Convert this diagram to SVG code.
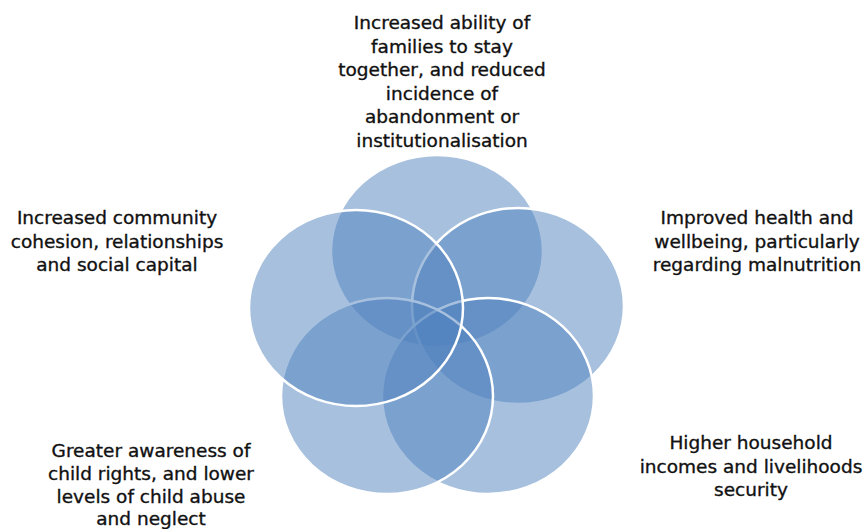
<svg xmlns="http://www.w3.org/2000/svg" width="865" height="529" viewBox="0 0 865 529">
  <style>
    .petal { fill: #4F81BD; fill-opacity: 0.5; stroke: #FFFFFF; stroke-width: 2.5; }
    .label { font-family: "DejaVu Sans", "Liberation Sans", sans-serif; font-size: 18.5px; fill: #111111; stroke: #111111; stroke-width: 0.35; text-anchor: middle; }
  </style>
  <rect width="865" height="529" fill="#FFFFFF"/>

  <!-- Overlapping outcome circles, drawn clockwise from the top -->
  <g id="circle-top"><ellipse class="petal" cx="437" cy="251" rx="106" ry="96"/></g>
  <g id="circle-right"><ellipse class="petal" cx="518" cy="306" rx="106" ry="98"/></g>
  <g id="circle-bottom-right"><ellipse class="petal" cx="488" cy="396" rx="106" ry="98"/></g>
  <g id="circle-bottom-left"><ellipse class="petal" cx="387" cy="396" rx="106" ry="98"/></g>
  <g id="circle-left"><ellipse class="petal" cx="356" cy="308" rx="107" ry="98"/></g>

  <!-- Outcome labels -->
  <g id="label-top">
    <text class="label" x="442" y="29">Increased ability of</text>
    <text class="label" x="442" y="53">families to stay</text>
    <text class="label" x="442" y="76">together, and reduced</text>
    <text class="label" x="442" y="100">incidence of</text>
    <text class="label" x="442" y="123">abandonment or</text>
    <text class="label" x="442" y="147">institutionalisation</text>
  </g>
  <g id="label-right">
    <text class="label" x="757" y="224">Improved health and</text>
    <text class="label" x="757" y="247.5">wellbeing, particularly</text>
    <text class="label" x="757" y="271">regarding malnutrition</text>
  </g>
  <g id="label-bottom-right">
    <text class="label" x="751" y="449">Higher household</text>
    <text class="label" x="751" y="472.5">incomes and livelihoods</text>
    <text class="label" x="751" y="496">security</text>
  </g>
  <g id="label-bottom-left">
    <text class="label" x="151" y="457">Greater awareness of</text>
    <text class="label" x="151" y="480">child rights, and lower</text>
    <text class="label" x="151" y="503">levels of child abuse</text>
    <text class="label" x="151" y="525">and neglect</text>
  </g>
  <g id="label-left">
    <text class="label" x="117" y="224">Increased community</text>
    <text class="label" x="117" y="247.5">cohesion, relationships</text>
    <text class="label" x="117" y="271">and social capital</text>
  </g>
</svg>
